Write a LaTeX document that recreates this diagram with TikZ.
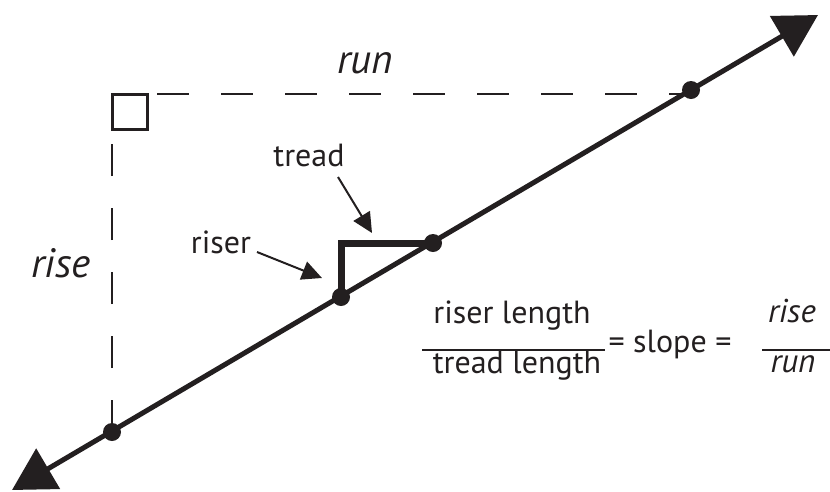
\documentclass[tikz,border=0pt]{standalone}
\usepackage{fontspec}
\setmainfont{PT Sans}
\usepackage{xcolor}
\usepackage{tikz}
\usetikzlibrary{arrows.meta,positioning,calc}
\definecolor{ink}{RGB}{35,31,32}

\begin{document}
\begin{tikzpicture}[
  x=1pt, y=-1pt,
  every node/.style={text=ink},
  lbl/.style={inner sep=0pt, anchor=base, font=\fontsize{32}{38}\selectfont},
  ilbl/.style={lbl, font=\fontsize{41}{48}\selectfont\itshape},
  flbl/.style={lbl, font=\fontsize{33}{38}\selectfont\itshape},
  dot/.style={circle, fill=ink, inner sep=0pt, minimum size=18pt},
  mainline/.style={draw=ink, line width=5pt, {Triangle[length=42pt,width=46pt]}-{Triangle[length=42pt,width=46pt]}},
  stair/.style={draw=ink, line width=7pt, line join=miter},
  guide/.style={draw=ink, line width=2.5pt, dash pattern=on 32pt off 32pt},
  sqr/.style={draw=ink, line width=3pt},
  lblarr/.style={draw=ink, line width=2pt, -{Triangle[length=20pt,width=19pt]}},
  bar/.style={draw=ink, line width=2pt},
]
  \useasboundingbox (0,0) rectangle (830,491);

  % Points on the line
  \node[dot] (d1) at (112,432) {};
  \node[dot] (d2) at (341,297) {};
  \node[dot] (d3) at (433,243) {};
  \node[dot] (d4) at (691,90) {};
  \coordinate (lo) at (12,490);
  \coordinate (hi) at (818,15);

  % Rise and run
  \coordinate (corner) at (112,94);
  \coordinate (hstart) at (157,94);
  \coordinate (vtop) at (112,144);
  \draw[sqr] (corner) rectangle ++(35,35);
  \draw[guide] (hstart) -- (hstart -| d4);
  \draw[guide] (d1.center) -- (vtop);
  \node[ilbl] (run) at (365,73) {run};
  \node[ilbl] (rise) at (61,277) {rise};

  % The line
  \draw[mainline] (lo) -- (hi);

  % Step
  \draw[stair] (d2.center) |- (d3.center);
  \node[lbl] (tread) at (309,166) {tread};
  \node[lbl] (riser) at (221,253) {riser};
  \coordinate (treadtip) at (372,233);
  \coordinate (risertip) at (322,278);
  \draw[lblarr] ([xshift=29pt,yshift=-11pt]tread.base) -- (treadtip);
  \draw[lblarr] ([xshift=36pt,yshift=1pt]riser.base) -- (risertip);

  % Formula
  \node[lbl] (num1) at (512,323) {riser length};
  \node[lbl] (den1) at (517,373) {tread length};
  \coordinate (bar1l) at (422,350);
  \coordinate (bar1r) at (605,350);
  \draw[bar] (bar1l) -- (bar1r);
  \node[lbl] (slope) at (670,352) {= slope =};
  \node[flbl] (num2) at (792,322) {rise};
  \node[flbl] (den2) at (793,372) {run};
  \coordinate (bar2l) at (762,350);
  \coordinate (bar2r) at (830,350);
  \draw[bar] (bar2l) -- (bar2r);
\end{tikzpicture}
\end{document}
